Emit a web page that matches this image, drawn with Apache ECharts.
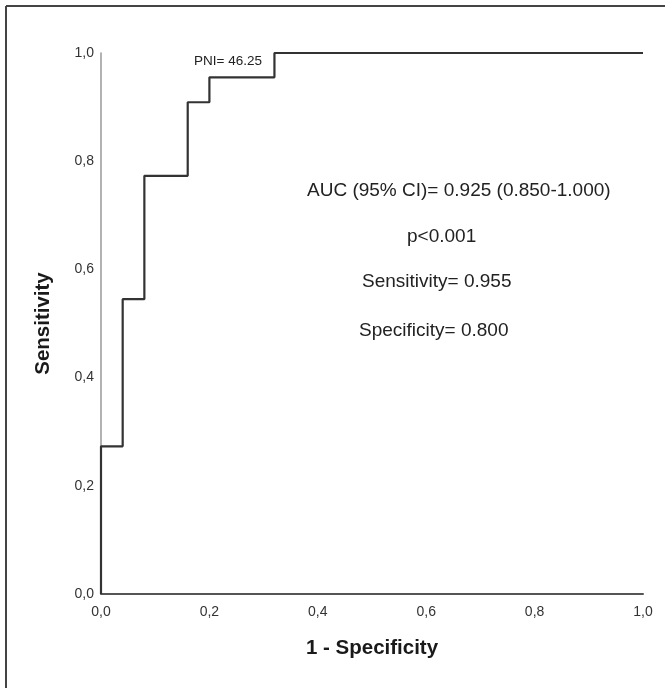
<!DOCTYPE html>
<html>
<head>
<meta charset="utf-8">
<script src="https://cdn.jsdelivr.net/npm/echarts@6/dist/echarts.min.js"></script>
<style>
  html, body { margin: 0; padding: 0; background: #fff; }
  #chart { width: 665px; height: 688px; }
</style>
</head>
<body>
<div id="chart"></div>
<script>
// ROC curve corner points (1 - specificity, sensitivity)
const fpr = [0, 0, 0.04, 0.04, 0.08, 0.08, 0.16, 0.16, 0.20, 0.20, 0.32, 0.32, 1.0];
const tpr = [0, 0.273, 0.273, 0.545, 0.545, 0.773, 0.773, 0.909, 0.909, 0.955, 0.955, 1.0, 1.0];
const tickValues = [0, 0.2, 0.4, 0.6, 0.8, 1.0];
const tickLabels = ["0,0", "0,2", "0,4", "0,6", "0,8", "1,0"];
const xTitle = "1 - Specificity";
const yTitle = "Sensitivity";
const cutLabel = "PNI= 46.25";
const statLines = ["AUC (95% CI)= 0.925 (0.850-1.000)", "p<0.001", "Sensitivity= 0.955", "Specificity= 0.800"];

const chart = echarts.init(document.getElementById('chart'), null, { renderer: 'canvas' });
const fmt = v => {
  const i = tickValues.findIndex(t => Math.abs(t - v) < 1e-9);
  return i >= 0 ? tickLabels[i] : '';
};
const font = 'Arial, "Liberation Sans", sans-serif';
const rocData = fpr.map((x, i) => [x, tpr[i]]);

chart.setOption({
  animation: false,
  backgroundColor: '#ffffff',
  grid: { left: 101, right: 22, top: 53, bottom: 94, containLabel: false },
  xAxis: {
    type: 'value', min: 0, max: 1, interval: 0.2,
    axisLine: { show: true, lineStyle: { color: '#555', width: 2 } },
    axisTick: { show: false },
    splitLine: { show: false },
    axisLabel: { formatter: fmt, color: '#333', fontSize: 14, fontFamily: font, margin: 11 },
    name: xTitle, nameLocation: 'middle', nameGap: 44,
    nameTextStyle: { fontSize: 20.5, fontWeight: 'bold', color: '#1a1a1a', fontFamily: font }
  },
  yAxis: {
    type: 'value', min: 0, max: 1, interval: 0.2,
    axisLine: { show: true, lineStyle: { color: '#999', width: 1.5 } },
    axisTick: { show: false },
    splitLine: { show: false },
    axisLabel: { formatter: fmt, color: '#333', fontSize: 14, fontFamily: font, margin: 7 },
    name: yTitle, nameLocation: 'middle', nameGap: 47, nameRotate: 90,
    nameTextStyle: { fontSize: 20.5, fontWeight: 'bold', color: '#1a1a1a', fontFamily: font }
  },
  series: [{
    type: 'line',
    data: rocData,
    showSymbol: false,
    lineStyle: { color: '#333', width: 2.2 },
    z: 5
  }],
  graphic: [
    { type: 'line', shape: { x1: 6, y1: 6, x2: 665, y2: 6 }, style: { stroke: '#444', lineWidth: 2 } },
    { type: 'line', shape: { x1: 6, y1: 6, x2: 6, y2: 688 }, style: { stroke: '#444', lineWidth: 2 } },
    { type: 'text', left: 194, top: 54, style: { text: cutLabel, fontSize: 13.5, fontFamily: font, fill: '#222' } },
    { type: 'text', left: 307, top: 181, style: { text: statLines[0], fontSize: 19, fontFamily: font, fill: '#222' } },
    { type: 'text', left: 407, top: 227, style: { text: statLines[1], fontSize: 19, fontFamily: font, fill: '#222' } },
    { type: 'text', left: 362, top: 272, style: { text: statLines[2], fontSize: 19, fontFamily: font, fill: '#222' } },
    { type: 'text', left: 359, top: 321, style: { text: statLines[3], fontSize: 19, fontFamily: font, fill: '#222' } }
  ]
});
</script>
</body>
</html>
